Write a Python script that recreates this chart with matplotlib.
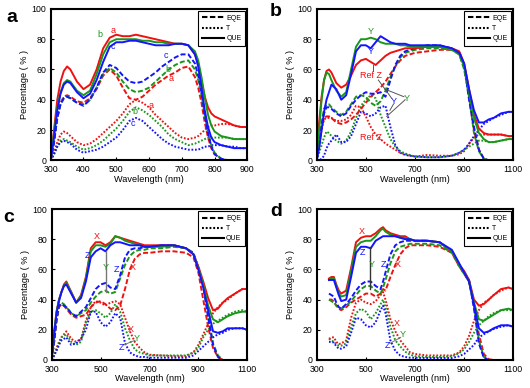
import matplotlib
matplotlib.use("Agg")
import matplotlib.pyplot as plt
from matplotlib.lines import Line2D

plt.rcParams['font.family'] = ['Liberation Sans', 'DejaVu Sans']

RED = '#ee1111'
GREEN = '#1a961a'
BLUE = '#1414ff'

# ---------------- panel a ----------------
wl_a = [300, 310, 320, 330, 340, 350, 360, 380, 400, 420, 440, 460, 480, 500, 520, 540, 560, 580, 600,
        620, 640, 660, 680, 700, 720, 740, 750, 760, 770, 780, 790, 800, 820, 840, 860, 880, 900]
a_que_a = [0, 20, 40, 52, 59, 62, 60, 52, 47, 50, 60, 74, 81, 83, 82, 82, 83, 82, 81,
           80, 79, 78, 77, 77, 76, 70, 64, 52, 42, 35, 31, 29, 27, 25, 23, 22, 22]
a_que_b = [0, 18, 35, 45, 51, 53, 52, 46, 43, 46, 57, 70, 78, 80, 80, 80, 80, 79, 79,
           78, 78, 77, 77, 77, 76, 72, 66, 55, 42, 30, 23, 19, 16, 15, 14, 14, 14]
a_que_c = [0, 15, 33, 44, 50, 52, 51, 45, 41, 44, 53, 65, 75, 78, 78, 79, 79, 78, 77,
           76, 76, 76, 77, 77, 76, 70, 62, 48, 33, 22, 15, 12, 10, 9, 8, 8, 8]
a_eqe_a = [0, 12, 28, 38, 42, 43, 42, 39, 38, 41, 47, 56, 60, 56, 48, 41, 40, 42, 46,
           50, 53, 56, 58, 61, 62, 55, 48, 38, 25, 15, 8, 4, 1, 0, 0, 0, 0]
a_eqe_b = [0, 12, 28, 37, 41, 42, 41, 38, 37, 40, 48, 57, 61, 58, 52, 47, 45, 46, 48,
           52, 56, 60, 63, 65, 66, 60, 53, 43, 30, 18, 10, 5, 1, 0, 0, 0, 0]
a_eqe_c = [0, 12, 28, 37, 41, 42, 41, 38, 36, 40, 48, 58, 63, 61, 56, 52, 51, 52, 55,
           58, 62, 65, 68, 70, 70, 64, 56, 45, 30, 18, 9, 4, 1, 0, 0, 0, 0]
a_t_a = [0, 5, 12, 17, 19, 18, 16, 12, 10, 11, 14, 18, 22, 26, 31, 37, 40, 38, 35,
         30, 26, 22, 18, 15, 14, 15, 16, 18, 20, 22, 23, 23, 24, 24, 23, 22, 22]
a_t_b = [0, 4, 9, 13, 14, 13, 12, 9, 7, 8, 10, 13, 17, 21, 26, 32, 35, 33, 30,
         26, 22, 17, 14, 12, 10, 11, 12, 13, 14, 15, 15, 15, 15, 15, 14, 14, 14]
a_t_c = [0, 4, 9, 12, 13, 12, 11, 7, 5, 6, 7, 9, 12, 15, 20, 26, 28, 26, 22,
         18, 14, 11, 9, 8, 7, 7, 7, 8, 9, 9, 10, 10, 10, 9, 9, 8, 8]

# ---------------- panels b, c ----------------
wl_bc = [300, 310, 320, 330, 340, 350, 360, 380, 400, 420, 440, 460, 480, 500, 520, 540, 560, 580, 600,
         620, 640, 660, 680, 700, 750, 800, 850, 880, 900, 920, 940, 960, 980, 1000, 1020, 1050, 1080, 1100]

b_que_ref = [0, 25, 42, 53, 59, 60, 58, 51, 48, 50, 56, 63, 66, 67, 65, 63, 66, 69, 71,
             72, 73, 74, 74, 74, 75, 75, 74, 72, 64, 47, 30, 21, 18, 17, 17, 17, 16, 16]
b_que_yg = [0, 20, 40, 53, 58, 57, 53, 46, 42, 45, 60, 75, 80, 80, 81, 80, 78, 77, 77,
            77, 76, 76, 75, 75, 75, 75, 73, 70, 62, 45, 28, 18, 14, 12, 12, 13, 14, 14]
b_que_yb = [0, 8, 20, 32, 40, 45, 50, 47, 40, 43, 57, 72, 76, 76, 74, 78, 82, 80, 78,
            77, 77, 77, 76, 76, 76, 76, 74, 71, 64, 47, 33, 25, 25, 27, 28, 31, 32, 32]
b_eqe_ref = [0, 12, 22, 28, 29, 29, 28, 25, 24, 25, 27, 30, 34, 38, 42, 45, 48, 52, 57,
             62, 66, 69, 70, 71, 72, 73, 73, 72, 63, 42, 20, 7, 1, 0, 0, 0, 0, 0]
b_eqe_yg = [0, 12, 25, 34, 37, 37, 35, 32, 30, 32, 37, 42, 43, 42, 38, 36, 39, 46, 55,
            62, 68, 71, 72, 73, 74, 74, 73, 70, 60, 42, 18, 6, 1, 0, 0, 0, 0, 0]
b_eqe_yb = [0, 10, 22, 31, 35, 35, 34, 31, 29, 31, 36, 40, 43, 45, 44, 44, 45, 42, 53,
            63, 69, 72, 73, 74, 76, 76, 74, 71, 63, 40, 22, 7, 1, 0, 0, 0, 0, 0]
b_t_ref = [0, 10, 20, 27, 28, 28, 28, 26, 26, 27, 30, 36, 35, 29, 22, 17, 14, 11, 9,
           7, 5, 4, 3, 2.5, 3.5, 3, 3, 4, 6, 11, 15, 17, 17, 17, 17, 17, 16, 16]
b_t_yg = [0, 5, 10, 15, 19, 18, 16, 13, 11, 13, 19, 28, 36, 40, 43, 41, 30, 22, 14,
          9, 6, 4.5, 3.5, 2.5, 2, 2, 3, 5, 7, 9, 11, 13, 13, 12, 12, 13, 14, 15]
b_t_yb = [0, 0, 1, 3, 8, 11, 13, 17, 12, 12, 16, 24, 32, 31, 29, 31, 35, 36, 22,
          10, 5, 3.5, 3, 2.5, 2, 2, 3, 5, 7, 11, 16, 20, 24, 26, 28, 30, 32, 32]

c_que_x = [0, 18, 32, 40, 45, 50, 52, 45, 38, 43, 55, 74, 78, 78, 76, 78, 82, 81, 80,
           79, 78, 77, 76, 76, 76, 76, 74, 70, 62, 52, 41, 33, 34, 38, 41, 44, 47, 47]
c_que_y = [0, 18, 32, 40, 45, 49, 51, 45, 38, 42, 54, 72, 76, 76, 75, 77, 82, 81, 79,
           78, 77, 76, 75, 75, 75, 76, 74, 70, 61, 50, 36, 27, 25, 27, 29, 31, 32, 32]
c_que_z = [0, 17, 31, 39, 45, 49, 50, 44, 38, 41, 52, 68, 72, 74, 72, 76, 78, 78, 77,
           76, 76, 76, 75, 75, 76, 76, 74, 70, 60, 48, 33, 19, 18, 19, 21, 21, 21, 20]
c_eqe_x = [0, 12, 26, 35, 37, 36, 34, 30, 28, 29, 30, 35, 38, 39, 37, 34, 33, 36, 47,
           60, 67, 70, 71, 71, 72, 72, 71, 68, 58, 40, 22, 8, 2, 0, 0, 0, 0, 0]
c_eqe_y = [0, 12, 27, 36, 38, 37, 35, 31, 29, 31, 33, 38, 42, 45, 46, 44, 45, 54, 63,
           69, 72, 73, 73, 74, 74, 75, 74, 70, 61, 49, 30, 11, 3, 0, 0, 0, 0, 0]
c_eqe_z = [0, 12, 27, 36, 37, 36, 35, 31, 29, 32, 35, 41, 47, 50, 51, 48, 47, 56, 68,
           73, 74, 74, 75, 75, 76, 76, 74, 71, 61, 50, 28, 10, 2, 0, 0, 0, 0, 0]
c_t_x = [0, 3, 8, 12, 15, 17, 19, 14, 12, 14, 26, 35, 39, 38, 36, 38, 39, 37, 28,
         19, 12, 8, 5, 3.5, 3, 2.5, 2.5, 5, 10, 17, 24, 31, 35, 38, 40, 44, 47, 47]
c_t_y = [0, 3, 7, 11, 15, 16, 17, 12, 10, 12, 25, 32, 33, 31, 28, 31, 37, 32, 21,
         13, 7, 5, 4, 3, 3, 3, 3, 5, 8, 15, 20, 24, 26, 28, 30, 32, 33, 32]
c_t_z = [0, 3, 6, 10, 13, 14, 15, 10, 11, 14, 20, 32, 32, 25, 22, 25, 31, 28, 11,
         5, 3, 2, 2, 1.5, 1.5, 1.5, 1.5, 3, 6, 9, 12, 15, 17, 18, 20, 21, 21, 20]

# ---------------- panel d ----------------
wl_d = [350, 360, 370, 380, 390, 400, 420, 440, 460, 480, 500, 520, 540, 560, 570, 580, 600, 620, 640,
        660, 680, 700, 750, 800, 850, 880, 900, 920, 940, 960, 980, 1000, 1020, 1050, 1080, 1100]
d_que_x = [54, 55, 55, 50, 46, 44, 46, 61, 78, 81, 82, 82, 84, 87, 88, 86, 84, 83, 82,
           82, 80, 79, 79, 78, 72, 63, 59, 53, 40, 36, 37, 40, 43, 47, 48, 47]
d_que_y = [53, 54, 54, 49, 44, 42, 43, 59, 75, 78, 79, 79, 82, 86, 87, 85, 83, 82, 81,
           81, 80, 79, 79, 78, 72, 63, 58, 52, 38, 27, 26, 28, 30, 33, 34, 33]
d_que_z = [53, 53, 53, 48, 43, 39, 40, 55, 71, 75, 75, 74, 79, 81, 82, 82, 82, 82, 81,
           80, 80, 79, 79, 78, 73, 64, 58, 52, 37, 21, 18, 19, 21, 23, 23, 22]
d_eqe_x = [40, 40, 39, 36, 34, 33, 35, 38, 40, 42, 44, 44, 42, 44, 47, 46, 55, 63, 70,
           74, 76, 76, 76, 75, 71, 62, 57, 52, 36, 17, 4, 0.5, 0, 0, 0, 0]
d_eqe_y = [40, 39, 38, 36, 35, 34, 36, 39, 43, 47, 49, 49, 46, 44, 48, 53, 64, 72, 75,
           76, 77, 77, 77, 76, 71, 62, 57, 52, 36, 13, 2, 0, 0, 0, 0, 0]
d_eqe_z = [44, 43, 42, 38, 35, 34, 37, 41, 46, 50, 52, 52, 49, 47, 52, 58, 70, 76, 78,
           79, 79, 79, 79, 78, 72, 63, 58, 53, 34, 11, 1.5, 0, 0, 0, 0, 0]
d_t_x = [14, 15, 15, 12, 10.5, 11, 13, 28, 38, 40, 38, 37, 39, 43, 45, 40, 27, 19, 13,
         9, 5, 4, 3, 3, 3, 5, 9, 16, 26, 33, 38, 40, 43, 46, 48, 47]
d_t_y = [14, 13, 12, 10.5, 9.5, 9.5, 11, 22, 31, 34, 32, 27, 31, 37, 40, 35, 22, 13, 9,
         5.5, 3.5, 2.5, 2, 2, 2.5, 4.5, 7, 12, 18, 23, 26, 29, 31, 33, 33, 33]
d_t_z = [12, 12, 11.5, 9, 7.5, 7.5, 9, 18, 28, 27, 23, 21.5, 25, 33, 36, 31, 13, 6, 3,
         2, 1.5, 1.5, 1.3, 1.3, 1.3, 2.5, 4, 7, 10, 15, 17, 19, 20.5, 22, 23, 22]

legend_labels = ['EQE', 'T', 'QUE']

DASH = (0, (2.6, 1.2))
DOT = (0, (0.9, 0.9))
LW = 1.4

fig = plt.figure(figsize=(5.3, 3.88), dpi=100)
pos = {
    'a': [0.0957, 0.5869, 0.371, 0.390],
    'b': [0.5975, 0.5869, 0.371, 0.390],
    'c': [0.0975, 0.0722, 0.369, 0.389],
    'd': [0.5975, 0.0722, 0.371, 0.389],
}


def setup(ax, xmax, xticks):
    ax.set_xlim(300, xmax)
    ax.set_ylim(0, 100)
    ax.set_xticks(xticks)
    ax.set_yticks([0, 20, 40, 60, 80, 100])
    ax.tick_params(direction='in', length=2.5, width=0.8, labelsize=6.3)
    ax.tick_params(axis='x', pad=3.6)
    ax.tick_params(axis='y', pad=3.2)
    for s in ax.spines.values():
        s.set_linewidth(1.5)
    ax.set_xlabel('Wavelength (nm)', fontsize=6.6, labelpad=0.2)
    ax.set_ylabel('Percentage ( % )', fontsize=6.6, labelpad=1.6)
    handles = [Line2D([], [], color='k', lw=1.5, ls=DASH),
               Line2D([], [], color='k', lw=1.5, ls=DOT),
               Line2D([], [], color='k', lw=1.5, ls='-')]
    leg = ax.legend(handles, legend_labels, loc='upper right', fontsize=5, frameon=True,
                    fancybox=False, edgecolor='k', framealpha=1, handlelength=3.2,
                    handletextpad=0.3, labelspacing=0.45, borderpad=0.5,
                    borderaxespad=0.35)
    leg.get_frame().set_linewidth(0.8)


def plot_set(ax, wl, ques, eqes, ts):
    cols = [RED, GREEN, BLUE]
    for y, c in zip(ts, cols):
        ax.plot(wl, y, color=c, lw=LW, ls=DOT)
    for y, c in zip(eqes, cols):
        ax.plot(wl, y, color=c, lw=LW, ls=DASH)
    for y, c in zip(ques, cols):
        ax.plot(wl, y, color=c, lw=LW, ls='-')


def lab(ax, x, y, s, c, fs=6.5):
    ax.text(x, y, s, color=c, fontsize=fs, ha='center', va='center')


# panel a
axa = fig.add_axes(pos['a'])
plot_set(axa, wl_a, [a_que_a, a_que_b, a_que_c], [a_eqe_a, a_eqe_b, a_eqe_c], [a_t_a, a_t_b, a_t_c])
setup(axa, 900, [300, 400, 500, 600, 700, 800, 900])
for x, y, s, c in [(489, 86, 'a', RED), (450, 83, 'b', GREEN), (491, 75, 'c', BLUE),
                   (652, 69, 'c', BLUE), (657, 60, 'b', GREEN), (667, 54, 'a', RED),
                   (606, 36, 'a', RED), (557, 32, 'b', GREEN), (552, 24, 'c', BLUE)]:
    lab(axa, x, y, s, c)

# panel b
axb = fig.add_axes(pos['b'])
plot_set(axb, wl_bc, [b_que_ref, b_que_yg, b_que_yb], [b_eqe_ref, b_eqe_yg, b_eqe_yb],
         [b_t_ref, b_t_yg, b_t_yb])
setup(axb, 1100, [300, 500, 700, 900, 1100])
for (x0, y0, x1, y1) in [(530, 63, 530, 59), (551, 53, 578, 47), (578, 47, 655, 42),
                         (578, 47, 605, 41), (660, 40, 585, 29), (612, 37, 598, 33)]:
    axb.plot([x0, x1], [y0, y1], color='#555555', lw=0.7)
lab(axb, 521, 85, 'Y', GREEN)
lab(axb, 521, 72, 'Y', BLUE)
lab(axb, 521, 56, 'Ref Z', RED)
lab(axb, 612, 39, 'Y', BLUE)
lab(axb, 666, 41, 'Y', GREEN)
lab(axb, 521, 15, 'Ref Z', RED)

# panel c
axc = fig.add_axes(pos['c'])
plot_set(axc, wl_bc, [c_que_x, c_que_y, c_que_z], [c_eqe_x, c_eqe_y, c_eqe_z], [c_t_x, c_t_y, c_t_z])
setup(axc, 1100, [300, 500, 700, 900, 1100])
axc.plot([521, 521], [72, 45], color='#777777', lw=1.0)
axc.plot([595, 640], [10, 13], color='#777777', lw=0.7)
for x, y, s, c in [(483, 82, 'X', RED), (445, 69, 'Z', BLUE), (521, 61, 'Y', GREEN),
                   (564, 60, 'Z', BLUE), (632, 61, 'X', RED), (625, 20.5, 'X', RED),
                   (646, 14, 'Y', GREEN), (585, 8, 'Z', BLUE)]:
    lab(axc, x, y, s, c)

# panel d
axd = fig.add_axes(pos['d'])
plot_set(axd, wl_d, [d_que_x, d_que_y, d_que_z], [d_eqe_x, d_eqe_y, d_eqe_z], [d_t_x, d_t_y, d_t_z])
setup(axd, 1100, [300, 500, 700, 900, 1100])
axd.plot([515, 515], [75, 47], color='#333333', lw=1.0)
axd.plot([598, 642], [11, 15], color='#777777', lw=0.7)
for x, y, s, c in [(483, 85, 'X', RED), (487, 71, 'Z', BLUE), (524, 63, 'Y', GREEN),
                   (571, 63, 'Z', BLUE), (632, 63, 'X', RED), (628, 24, 'X', RED),
                   (650, 17, 'Y', GREEN), (589, 9.5, 'Z', BLUE)]:
    lab(axd, x, y, s, c)

for s, (x, y) in {'a': (12, 18), 'b': (276, 12), 'c': (9, 217), 'd': (276, 212)}.items():
    fig.text(x / 530, 1 - y / 388, s, fontsize=14, fontweight='bold', ha='center', va='center')

fig.savefig('out.png', dpi=100)
